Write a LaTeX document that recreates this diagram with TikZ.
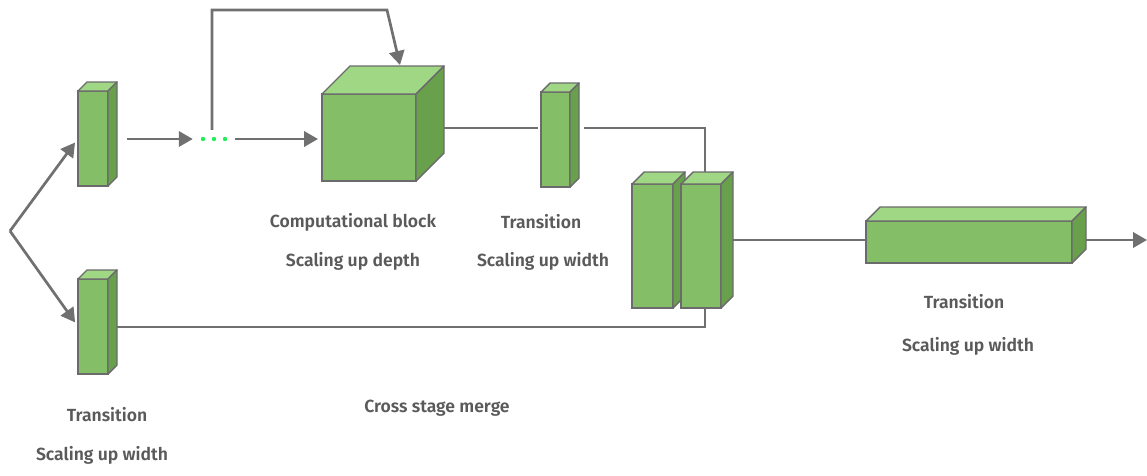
\documentclass[tikz,border=0pt]{standalone}
\usepackage{fontspec}
\setmainfont{Fira Sans}[BoldFont={* SemiBold}]
\usetikzlibrary{positioning,arrows.meta,calc}
\definecolor{boxfront}{HTML}{84BE66}
\definecolor{boxtop}{HTML}{9FD785}
\definecolor{boxside}{HTML}{68A04C}
\definecolor{edgegray}{HTML}{6B6B6B}
\definecolor{linegray}{HTML}{707070}
\definecolor{labgray}{HTML}{5A5A5A}
\definecolor{dotgreen}{HTML}{22EE55}

\tikzset{
  front/.style={draw=edgegray, fill=boxfront, line width=1.2pt, inner sep=0pt, outer sep=0pt},
  topface/.style={draw=edgegray, fill=boxtop, line width=1.2pt, line join=round},
  sideface/.style={draw=edgegray, fill=boxside, line width=1.2pt, line join=round},
  conn/.style={draw=linegray, line width=2.3pt},
  arr/.style={conn, -{Triangle[length=4.2mm,width=4.6mm]}},
  lab/.style={text=labgray, font=\bfseries\fontsize{15}{18}\selectfont}
}

% cuboid: name, centre x, centre y, width, height, depth
\newcommand{\cuboid}[6]{%
  \node[front, minimum width=#4*0.03cm, minimum height=#5*0.03cm] (#1) at (#2,#3) {};
  \draw[topface] (#1.north west) -- ([shift={(#6,-#6)}]#1.north west)
    -- ([shift={(#6,-#6)}]#1.north east) -- (#1.north east) -- cycle;
  \draw[sideface] (#1.north east) -- ([shift={(#6,-#6)}]#1.north east)
    -- ([shift={(#6,-#6)}]#1.south east) -- (#1.south east) -- cycle;
}

\begin{document}
\begin{tikzpicture}[x=0.03cm, y=-0.03cm]
\useasboundingbox (0,0) rectangle (1147,475);

% Blocks
\cuboid{tup}{93}{138.5}{30}{95}{9}
\cuboid{tlow}{93}{326.5}{30}{95}{9}
\cuboid{cube}{369}{137.5}{94}{87}{28}
\cuboid{tmid}{555.5}{139.5}{29}{95}{9}
\cuboid{mleft}{652.5}{246}{41}{124}{12}
\cuboid{mright}{701}{246}{40}{124}{12}
\cuboid{big}{969}{242}{206}{42}{14}

% Points
\coordinate (split) at (10,231);
\coordinate (fbcorner) at (387,10);
\coordinate (out) at (1147,240);
\node[minimum width=30*0.03cm, minimum height=18*0.03cm, inner sep=0pt] (dots) at (214,139) {};
\foreach \dx in {-11,0,11}
  \fill[dotgreen] ([xshift=\dx*0.03cm]dots.center) circle (2.2);

% Connectors
\draw[arr, shorten >=1.5mm] (split) -- (tup.west);
\draw[arr, shorten >=1.5mm] (split) -- (tlow.west);
\draw[arr] ([shift={(19,0.5)}]tup.east) -- ([shift={(-6,0)}]dots.west);
\draw[arr] ([shift={(6,0)}]dots.east) -- ([shift={(-4,1.5)}]cube.west);
\draw[arr] ([shift={(-2,0)}]dots.north) |- (fbcorner) -- ([shift={(31,-29)}]cube.north);
\draw[conn] ([shift={(28,-9.5)}]cube.east) -- ([shift={(-3,-11.5)}]tmid.west);
\draw[conn] ([shift={(14,-11.5)}]tmid.east) -| ([shift={(4,-12)}]mright.north);
\draw[conn] ([shift={(9,0.5)}]tlow.east) -| ([shift={(4,0)}]mright.south);
\draw[conn] ([shift={(12,-6)}]mright.east) -- ([shift={(0,-2)}]big.west);
\draw[arr] ([shift={(14,-2)}]big.east) -- (out);

% Labels
\node[lab] (labcube) at (353,222) {Computational block};
\node[lab] (labdepth) at (353,261) {Scaling up depth};
\node[lab] (labtmid) at (541,222) {Transition};
\node[lab] (labwmid) at (543,261) {Scaling up width};
\node[lab] (labtlow) at (107,415) {Transition};
\node[lab] (labwlow) at (102,455) {Scaling up width};
\node[lab] (labmerge) at (437,408) {Cross stage merge};
\node[lab] (labtbig) at (964,302) {Transition};
\node[lab] (labwbig) at (968,346) {Scaling up width};
\end{tikzpicture}
\end{document}
